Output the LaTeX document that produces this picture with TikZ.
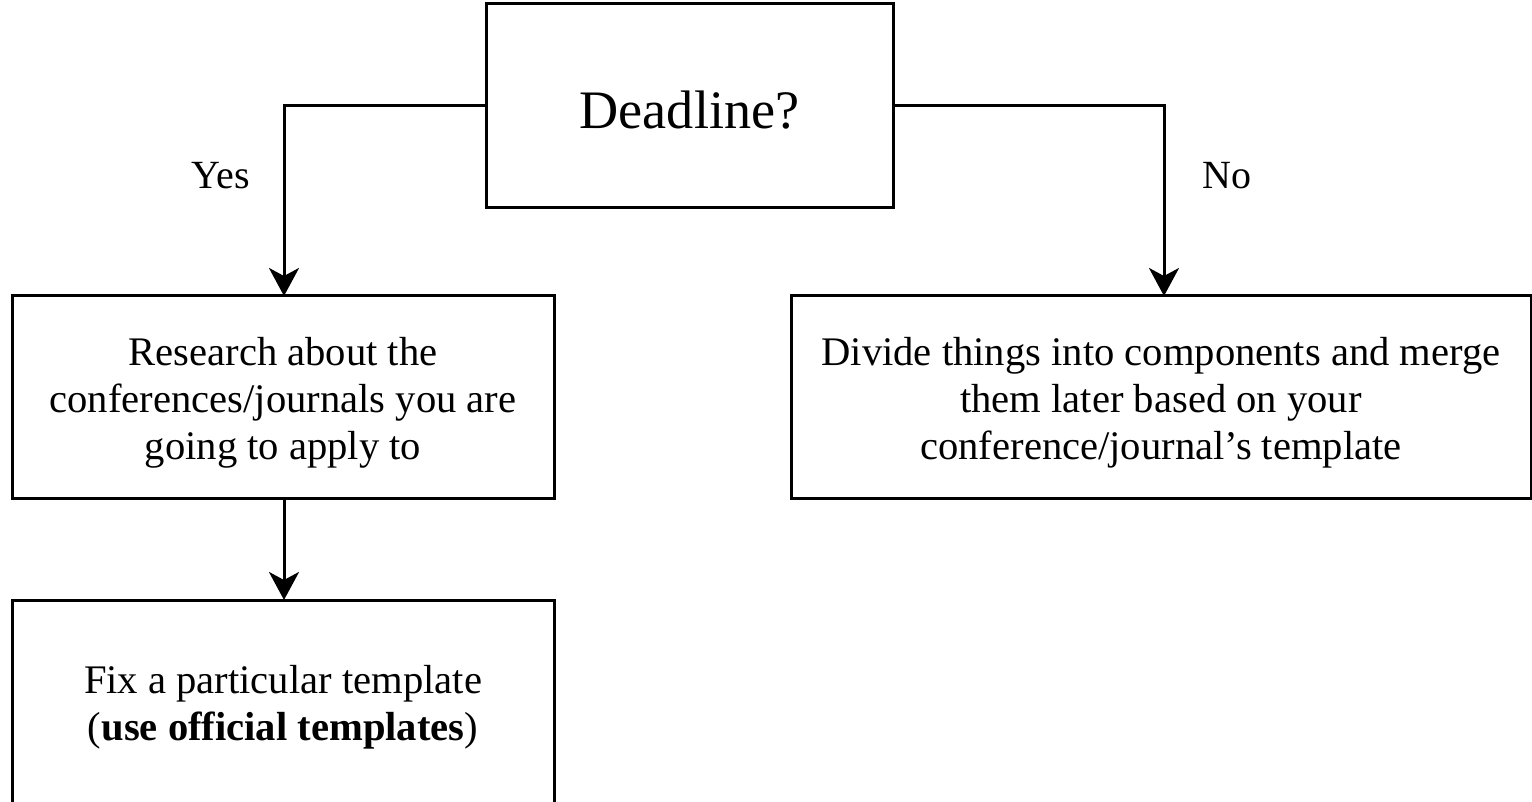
\documentclass[tikz,border=0pt]{standalone}
\usepackage{fontspec}
\setmainfont{Liberation Serif}
\usetikzlibrary{arrows.meta}
\begin{document}
\begin{tikzpicture}[x=0.5pt,y=-0.5pt,
  box/.style={draw=black, line width=1.5pt, inner sep=0pt},
  boxtext/.style={align=center, inner sep=0pt, yshift=-2.8pt,
    font=\fontsize{20.3}{23.5}\selectfont},
  conn/.style={draw=black, line width=1.5pt,
    -{Stealth[length=14pt,width=15pt,inset=4pt]}},
  lbl/.style={font=\fontsize{20}{23.5}\selectfont, inner sep=0pt}]
\useasboundingbox (0,0) rectangle (1532,802);
\fill[white] (0,0) rectangle (1532,802);
\node[box, minimum width=203.5pt, minimum height=102pt] (dl) at (689.5,106) {};
\node[boxtext, yshift=0.8pt, font=\fontsize{27.1}{31}\selectfont] (dlt) at (dl.center) {Deadline?};
\node[box, minimum width=271pt, minimum height=101pt] (res) at (283,397) {};
\node[boxtext] (rest) at (res.center)
  {Research about the\\conferences/journals you are\\going to apply to};
\node[box, minimum width=370pt, minimum height=101pt] (div) at (1161,397) {};
\node[boxtext] (divt) at (div.center)
  {Divide things into components and merge\\them later based on your\\conference/journal’s template};
\node[box, minimum width=271pt, minimum height=102pt] (fix) at (283,702) {};
\node[boxtext] (fixt) at (fix.center)
  {Fix a particular template\\(\textbf{use official templates})};
\coordinate (lt) at (284,296);
\coordinate (rt) at (1164,296);
\draw[conn] (dl.west) -| (lt);
\draw[conn] (dl.east) -| (rt);
\coordinate (rb) at (284,498);
\coordinate (ft) at (284,600);
\draw[conn] (rb) -- (ft);
\node[lbl] (yes) at (221,176) {Yes};
\node[lbl] (no) at (1227,176) {No};
\end{tikzpicture}
\end{document}
